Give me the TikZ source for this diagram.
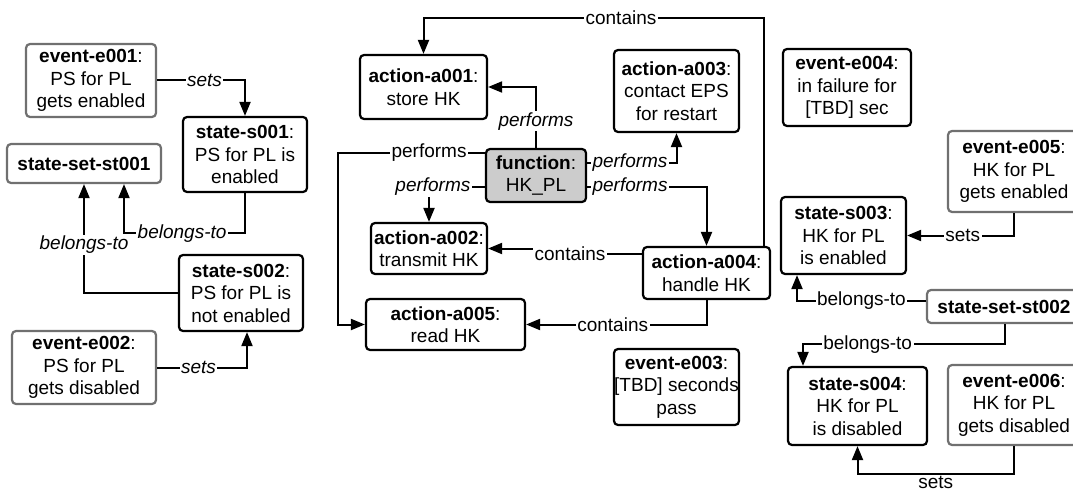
\documentclass[tikz,border=0pt]{standalone}
\usepackage{fontspec}
\setmainfont{Liberation Sans}
\usetikzlibrary{arrows.meta}
\definecolor{bordergray}{HTML}{707070}
\definecolor{fngray}{HTML}{CCCCCC}
\begin{document}
\begin{tikzpicture}[x=1pt,y=-1pt,
  box/.style={draw, line width=2.2pt, rounded corners=4pt, align=center, inner sep=0pt,
    font=\fontsize{19}{22.5}\selectfont},
  gbox/.style={draw=bordergray},
  arr/.style={line width=2pt, -{Triangle[length=14pt,width=11pt]}},
  lbl/.style={fill=white, inner sep=1.5pt, font=\fontsize{19}{22}\selectfont},
  ilbl/.style={lbl, font=\fontsize{19}{22}\selectfont\itshape}]
\useasboundingbox (0,0) rectangle (1073,492);
\clip (0,0) rectangle (1073,492);
% left group
\node[box,gbox,minimum width=130pt,minimum height=73pt] (e001) at (91,80.5) {\textbf{event-e001}:\\PS for PL\\gets enabled};
\node[box,minimum width=124pt,minimum height=75pt] (s001) at (245,154.5) {\textbf{state-s001}:\\PS for PL is\\enabled};
\node[box,gbox,minimum width=154pt,minimum height=39pt] (st001) at (84,163.5) {\textbf{state-set-st001}};
\node[box,minimum width=124pt,minimum height=76pt] (s002) at (241,293) {\textbf{state-s002}:\\PS for PL is\\not enabled};
\node[box,gbox,minimum width=144pt,minimum height=73pt] (e002) at (84,367.5) {\textbf{event-e002}:\\PS for PL\\gets disabled};
% centre group
\node[box,minimum width=127pt,minimum height=64pt] (a001) at (423.5,87) {\textbf{action-a001}:\\store HK};
\node[box,minimum width=125pt,minimum height=82pt] (a003) at (676.5,91) {\textbf{action-a003}:\\contact EPS\\for restart};
\node[box,fill=fngray,minimum width=100pt,minimum height=53pt] (fn) at (536,175.5) {\textbf{function}:\\HK\_PL};
\node[box,minimum width=116pt,minimum height=51pt] (a002) at (429,248.5) {\textbf{action-a002}:\\transmit HK};
\node[box,minimum width=127pt,minimum height=52pt] (a004) at (706.5,273) {\textbf{action-a004}:\\handle HK};
\node[box,minimum width=159pt,minimum height=51pt] (a005) at (445.5,324.5) {\textbf{action-a005}:\\read HK};
\node[box,minimum width=125pt,minimum height=76pt] (e003) at (676.5,387) {\textbf{event-e003}:\\{}[TBD] seconds\\pass};
% right group
\node[box,minimum width=128pt,minimum height=77pt] (e004) at (847,87.5) {\textbf{event-e004}:\\in failure for\\{}[TBD] sec};
\node[box,gbox,minimum width=132pt,minimum height=81pt] (e005) at (1014,171.5) {\textbf{event-e005}:\\HK for PL\\gets enabled};
\node[box,minimum width=125pt,minimum height=77pt] (s003) at (843.5,235.5) {\textbf{state-s003}:\\HK for PL\\is enabled};
\node[box,gbox,minimum width=154pt,minimum height=33pt] (st002) at (1004,306.5) {\textbf{state-set-st002}};
\node[box,minimum width=139pt,minimum height=78pt] (s004) at (857.5,406) {\textbf{state-s004}:\\HK for PL\\is disabled};
\node[box,gbox,minimum width=132pt,minimum height=80pt] (e006) at (1014,405) {\textbf{event-e006}:\\HK for PL\\gets disabled};
% connectors, left
\draw[arr] (e001.east) -| node[ilbl,pos=0.27]{sets} (s001.north);
\draw[arr] (s001.south) -- ++(0,40) -| node[ilbl,pos=0.26]{belongs-to} ([xshift=40pt]st001.south);
\draw[arr] (s002.west) -| node[ilbl,pos=0.72]{belongs-to} (st001.south);
\draw[arr] (e002.east) -| node[ilbl,pos=0.23]{sets} ([xshift=6pt]s002.south);
% connectors, centre
\draw[arr] ([xshift=57.5pt]a004.north) -- ++(0,-228) -| node[lbl,pos=0.21]{contains} (a001.north);
\draw[arr] (fn.north) |- node[ilbl,pos=0.22]{performs} (a001.east);
\draw[arr] (fn.west |- 0,153) -- node[lbl,pos=0.38]{performs} (338,153) |- (a005.west);
\draw[arr] (fn.west |- 0,187) -| node[ilbl,pos=0.465]{performs} (a002.north);
\draw[arr] (fn.east |- 0,163) -| node[ilbl,pos=0.24]{performs} (a003.south);
\draw[arr] (fn.east |- 0,187) -| node[ilbl,pos=0.18]{performs} (a004.north);
\draw[arr] (a004.west |- 0,254) -- (570,254) |- node[lbl,pos=0]{contains} (a002.east);
\draw[arr] (a004.south) |- node[lbl,pos=0.76]{contains} (a005.east);
% connectors, right
\draw[arr] (e005.south) |- node[lbl,pos=0.74]{sets} (s003.east);
\draw[arr] (st002.west |- 0,301) -| node[lbl,pos=0.25]{belongs-to} ([xshift=-46.5pt]s003.south);
\draw[arr] ([xshift=1pt]st002.south) -- ++(0,20) -| node[lbl,pos=0.34]{belongs-to} ([xshift=-54.5pt]s004.north);
\draw[arr] (e006.south) -- ++(0,28) -| node[lbl,pos=0.25,fill=none,inner sep=0pt,yshift=-8pt]{sets} (s004.south);
\end{tikzpicture}
\end{document}
